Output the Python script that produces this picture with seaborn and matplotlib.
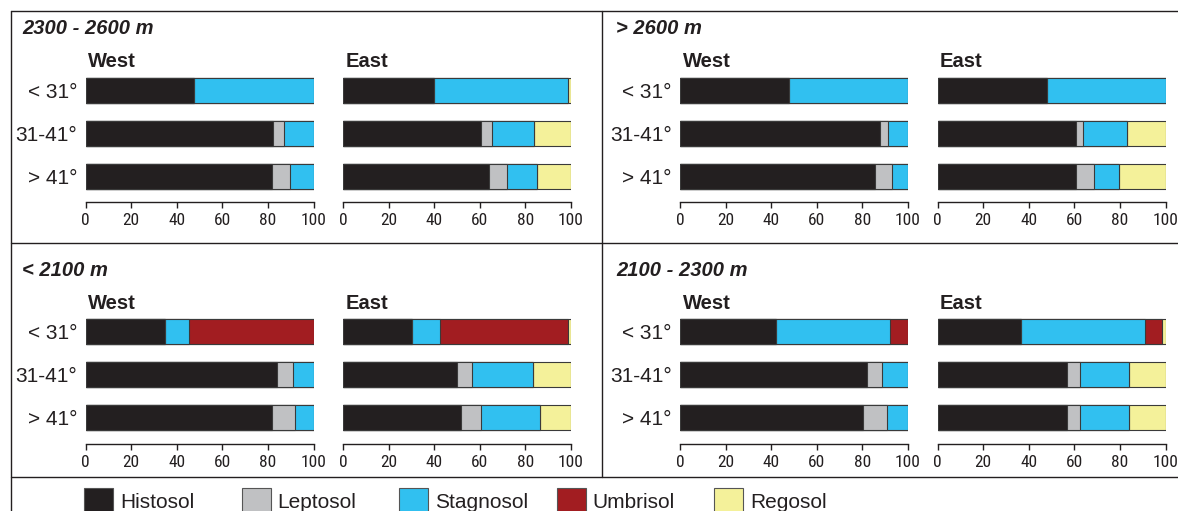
import matplotlib
matplotlib.use("Agg")
import matplotlib.pyplot as plt
from matplotlib import font_manager
from matplotlib.font_manager import FontProperties
from matplotlib.patches import Rectangle
import seaborn as sns
import pandas as pd
import numpy as np
import os

# ---------------- data ----------------
soils = ["Histosol", "Leptosol", "Stagnosol", "Umbrisol", "Regosol"]
soil_colors = ["#231f20", "#c0c1c3", "#31c0f0", "#a21d21", "#f4f19a"]
slopes = ["< 31°", "31-41°", "> 41°"]
sides = ["West", "East"]
panels = ["2300 - 2600 m", "> 2600 m", "< 2100 m", "2100 - 2300 m"]

# percentages per slope class, order of soils: Histosol, Leptosol, Stagnosol, Umbrisol, Regosol
p2300_west = [[47.8, 0.0, 52.2, 0.0, 0.0],
              [82.3, 4.7, 13.0, 0.0, 0.0],
              [81.9, 7.9, 10.2, 0.0, 0.0]]
p2300_east = [[39.9, 0.0, 58.8, 0.0, 1.3],
              [60.6, 4.8, 18.3, 0.0, 16.3],
              [63.9, 8.1, 13.2, 0.0, 14.8]]
p2600_west = [[48.0, 0.0, 52.0, 0.0, 0.0],
              [87.6, 3.6, 8.8, 0.0, 0.0],
              [85.5, 7.6, 6.9, 0.0, 0.0]]
p2600_east = [[47.9, 0.0, 52.1, 0.0, 0.0],
              [60.8, 3.1, 19.4, 0.0, 16.7],
              [60.6, 8.0, 11.1, 0.0, 20.3]]
p2100_west = [[34.7, 0.0, 10.6, 54.7, 0.0],
              [84.1, 6.7, 9.2, 0.0, 0.0],
              [81.9, 10.0, 8.1, 0.0, 0.0]]
p2100_east = [[30.3, 0.0, 12.2, 56.0, 1.5],
              [49.9, 6.6, 27.0, 0.0, 16.5],
              [51.9, 8.8, 25.5, 0.0, 13.8]]
p2200_west = [[42.0, 0.0, 50.2, 7.8, 0.0],
              [82.2, 6.5, 11.3, 0.0, 0.0],
              [80.2, 10.6, 9.2, 0.0, 0.0]]
p2200_east = [[36.8, 0.0, 54.4, 7.2, 1.6],
              [56.7, 6.0, 21.5, 0.0, 15.8],
              [56.7, 6.0, 21.1, 0.0, 16.2]]

panel_data = {
    ("2300 - 2600 m", "West"): p2300_west, ("2300 - 2600 m", "East"): p2300_east,
    ("> 2600 m", "West"): p2600_west, ("> 2600 m", "East"): p2600_east,
    ("< 2100 m", "West"): p2100_west, ("< 2100 m", "East"): p2100_east,
    ("2100 - 2300 m", "West"): p2200_west, ("2100 - 2300 m", "East"): p2200_east,
}
xticks = [0, 20, 40, 60, 80, 100]

rows = []
for (pan, side), mat in panel_data.items():
    for si, sl in enumerate(slopes):
        cum = np.cumsum(mat[si])
        for k, so in enumerate(soils):
            rows.append(dict(panel=pan, side=side, slope=sl, soil=so,
                             value=mat[si][k], cum=cum[k]))
df = pd.DataFrame(rows)

# ---------------- style ----------------
sns.set_theme(style="white")
plt.rcParams["font.family"] = ["Liberation Sans", "DejaVu Sans"]

# look for a condensed sans font for the tick labels
tick_fp = None
prefs = ["liberationsansnarrow-regular", "liberationsansnarrow", "robotocondensed-regular",
         "robotocondensed", "dejavusanscondensed.", "opensans_condensed-regular",
         "opensans-condensed", "notosans-condensed.", "notosanscondensed"]
files = [f.fname for f in font_manager.fontManager.ttflist]
extra = font_manager.findSystemFonts()
files = list(dict.fromkeys(files + extra))
for p in prefs:
    hit = [f for f in files if p in os.path.basename(f).lower().replace(" ", "")
           and "bold" not in os.path.basename(f).lower()
           and "italic" not in os.path.basename(f).lower()
           and "oblique" not in os.path.basename(f).lower()]
    if hit:
        tick_fp = FontProperties(fname=sorted(hit, key=len)[0], size=12.5)
        break
if tick_fp is None:
    tick_fp = FontProperties(family="Liberation Sans", size=11)

W, H = 1178, 511
fig = plt.figure(figsize=(W / 100, H / 100), dpi=100)
fig.patch.set_facecolor("white")

bg = fig.add_axes([0, 0, 1, 1], zorder=-1)
bg.set_xlim(0, W)
bg.set_ylim(H, 0)
bg.axis("off")

line_c = "#231f20"
lw = 1.0
# frame
bg.plot([11, 11], [11.5, H], color=line_c, lw=lw)
bg.plot([11, W], [11.5, 11.5], color=line_c, lw=lw)
bg.plot([11, W], [243.5, 243.5], color=line_c, lw=lw)
bg.plot([11, W], [477, 477], color=line_c, lw=lw)
bg.plot([602, 602], [11.5, 477], color=line_c, lw=lw)

offsets = {"2300 - 2600 m": (0, 0), "> 2600 m": (594.5, 0),
           "< 2100 m": (0, 241.5), "2100 - 2300 m": (594.5, 241.5)}
side_left = {"West": 85.5, "East": 343.0}
ax_w = 228.0
ax_top, ax_bot = 64.5, 202.0

def px_rect(left, top, width, height):
    return [left / W, 1 - (top + height) / H, width / W, height / H]

for pan in panels:
    xo, yo = offsets[pan]
    bg.text(22 + xo, 34.5 + yo, pan, fontsize=14.5, fontweight="bold",
            fontstyle="italic", color="#231f20", va="baseline", ha="left")
    for side in sides:
        left = side_left[side] + xo
        ax = fig.add_axes(px_rect(left, ax_top + yo, ax_w, ax_bot - ax_top))
        sub = df[(df.panel == pan) & (df.side == side)]
        for so, col in reversed(list(zip(soils, soil_colors))):
            d = sub[sub.soil == so]
            sns.barplot(data=d, x="cum", y="slope", order=slopes, color=col,
                        orient="h", width=0.58, edgecolor="#3a3a3a",
                        linewidth=0.8, saturation=1, errorbar=None, ax=ax)
        ax.set_xlim(0, 100)
        ax.set_ylim(2.6, -0.6)
        ax.set_xlabel("")
        ax.set_ylabel("")
        ax.set_facecolor("none")
        for s in ["left", "right", "top"]:
            ax.spines[s].set_visible(False)
        ax.spines["bottom"].set_color(line_c)
        ax.spines["bottom"].set_linewidth(1.0)
        ax.set_xticks(xticks)
        ax.set_xticklabels([str(t) for t in xticks], fontproperties=tick_fp,
                           color="#231f20")
        ax.tick_params(axis="x", bottom=True, direction="out", length=4.5,
                       width=1.0, color=line_c, pad=3.5)
        if side == "West":
            ax.set_yticks(range(len(slopes)))
            ax.set_yticklabels(slopes, fontsize=15, color="#231f20")
            ax.tick_params(axis="y", left=False, length=0, pad=6)
        else:
            ax.set_yticks([])
        bg.text(left + 2.5, 67.3 + yo, side, fontsize=14.5, fontweight="bold",
                color="#231f20", va="baseline", ha="left")

# legend
for i, (so, col) in enumerate(zip(soils, soil_colors)):
    x0 = 84 + i * 157.6
    bg.add_patch(Rectangle((x0, 488.5), 29, 29, facecolor=col,
                           edgecolor="#555555", lw=0.8, clip_on=False))
    bg.text(x0 + 36, 508.5, so, fontsize=15, color="#231f20",
            va="baseline", ha="left")

fig.savefig("out.png", dpi=100, facecolor="white")
